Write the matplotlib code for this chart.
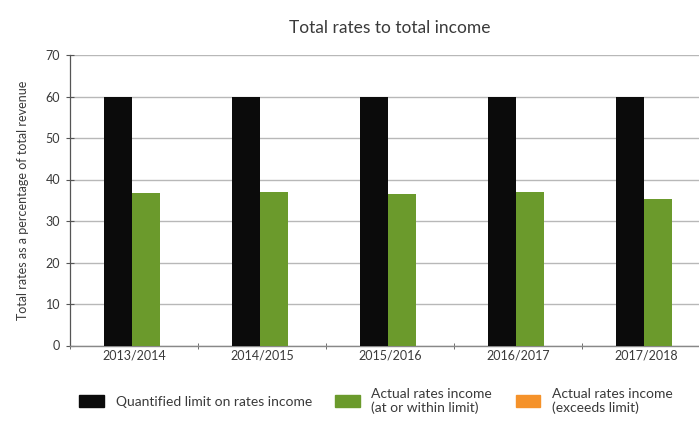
import matplotlib
matplotlib.use("Agg")
import matplotlib.pyplot as plt
import numpy as np
from matplotlib.patches import Patch

categories = ["2013/2014", "2014/2015", "2015/2016", "2016/2017", "2017/2018"]
limit = [60, 60, 60, 60, 60]
actual_within = [36.7, 37.1, 36.6, 37.1, 35.2]
actual_exceeds = [0, 0, 0, 0, 0]
y_ticks = [0, 10, 20, 30, 40, 50, 60, 70]

plt.rcParams['font.family'] = ['Liberation Sans Narrow', 'Lato', 'DejaVu Sans']

BLACK = '#0b0b0b'
GREEN = '#6b9a2c'
ORANGE = '#f5922a'
TXT = '#3a3a3a'

fig = plt.figure(figsize=(6.99, 4.21), dpi=100)
ax = fig.add_axes([70/699, 1-345.5/421, 640/699, (345.5-55)/421])

x = np.arange(len(categories))
w = 0.22
ax.bar(x - 0.125, limit, width=w, color=BLACK, linewidth=0, zorder=3)
ax.bar(x + 0.095, actual_within, width=w, color=GREEN, linewidth=0, zorder=3)
ax.bar(x + 0.095, actual_exceeds, width=w, bottom=actual_within, color=ORANGE, linewidth=0, zorder=3)

ax.set_xlim(-0.5, len(categories) - 0.5)
ax.set_ylim(0, 70)
ax.set_yticks(y_ticks)
ax.set_yticklabels([str(v) for v in y_ticks], fontsize=9, color=TXT)
ax.set_xticks(x)
ax.set_xticklabels(categories, fontsize=9, color=TXT)
ax.set_xticks(np.arange(len(categories) + 1) - 0.5, minor=True)
ax.tick_params(axis='x', which='major', length=0, pad=3)
ax.tick_params(axis='x', which='minor', length=5, direction='inout', color='#555555')
ax.tick_params(axis='y', length=6, direction='inout', color='#555555', pad=4)

ax.grid(axis='y', color='#b8b8b8', linewidth=1.0, zorder=0)
for s in ['top', 'right']:
    ax.spines[s].set_visible(False)
ax.spines['left'].set_color('#555555')
ax.spines['bottom'].set_color('#888888')
ax.spines['left'].set_linewidth(0.9)
ax.spines['bottom'].set_linewidth(1.0)

ax.set_ylabel("Total rates as a percentage of total revenue", fontsize=9, color=TXT)
ax.yaxis.set_label_coords(-0.064, 0.5)

fig.text(0.557, 1 - 28/421, "Total rates to total income", ha='center', va='center', fontsize=12.5, color=TXT)

handles = [Patch(color=BLACK), Patch(color=GREEN), Patch(color=ORANGE)]
labels = ["Quantified limit on rates income",
          "Actual rates income\n(at or within limit)",
          "Actual rates income\n(exceeds limit)"]
fig.legend(handles, labels, loc='center', bbox_to_anchor=(0.538, 1 - 401/421), ncol=3,
           frameon=False, fontsize=10, handlelength=1.75, handleheight=0.9,
           columnspacing=1.7, handletextpad=0.85, labelcolor=TXT, labelspacing=0.2)

fig.savefig("out.png", dpi=100)
